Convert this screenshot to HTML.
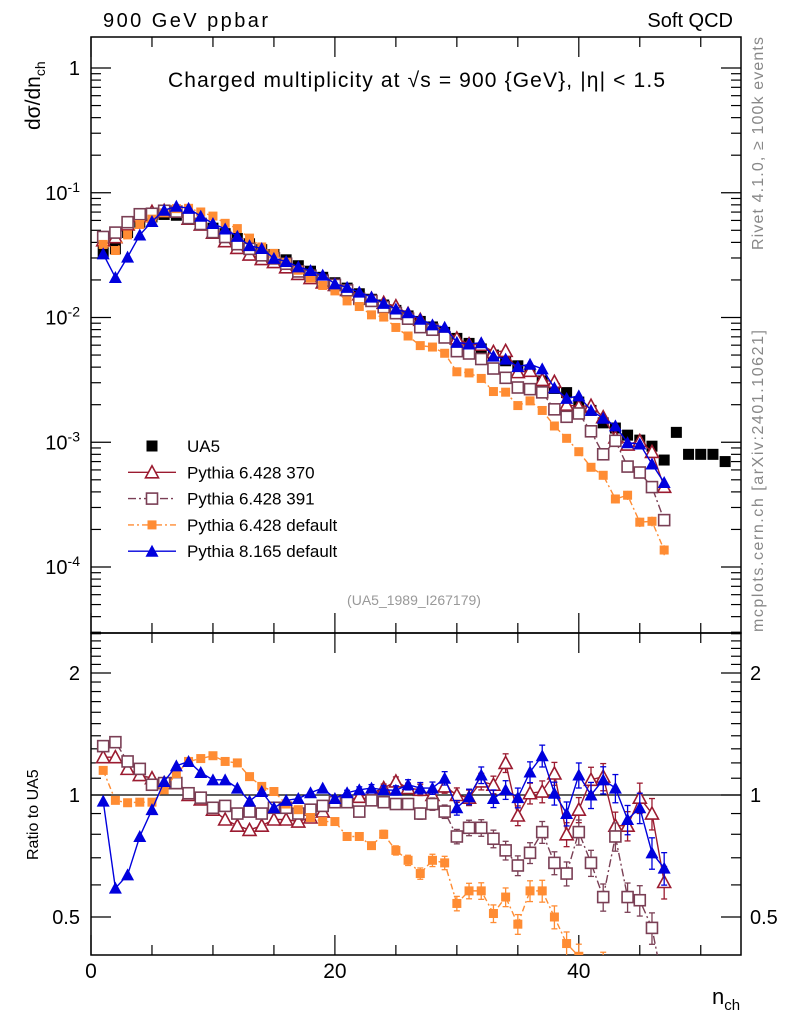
<!DOCTYPE html>
<html><head><meta charset="utf-8"><style>
body{margin:0;background:#fff;overflow:hidden}
svg{font-family:"Liberation Sans",sans-serif;display:block}
</style></head><body>
<svg id="c" width="786" height="1024" viewBox="0 0 786 1024">
<text x="103" y="27" font-size="20" textLength="165">900 GeV ppbar</text>
<text x="733" y="27" font-size="20" text-anchor="end">Soft QCD</text>
<text x="168" y="87" font-size="21" textLength="497">Charged multiplicity at √s = 900 {GeV}, |η| &lt; 1.5</text>
<text transform="translate(763,250) rotate(-90)" font-size="16" fill="#888" textLength="213">Rivet 4.1.0, ≥ 100k events</text>
<text transform="translate(763,632) rotate(-90)" font-size="16" fill="#888" textLength="302">mcplots.cern.ch [arXiv:2401.10621]</text>
<text transform="translate(40,130) rotate(-90)" font-size="21">dσ/dn<tspan font-size="14" dy="5">ch</tspan></text>
<text transform="translate(38,860) rotate(-90)" font-size="16">Ratio to UA5</text>
<text x="712" y="1004" font-size="22">n<tspan font-size="15" dy="6">ch</tspan></text>
<text x="414" y="605" font-size="14" fill="#999" text-anchor="middle">(UA5_1989_I267179)</text>
<g id="g"></g>
</svg>
<script>
const nVals=[];for(let i=1;i<=52;i++)nVals.push(i);
const ua5=[0.0335,0.0355,0.048,0.058,0.064,0.067,0.066,0.062,0.057,0.052,0.047,0.043,0.039,0.035,0.032,0.029,0.026,0.0235,0.021,0.019,0.0172,0.0155,0.014,0.0126,0.0114,0.0103,0.0093,0.0084,0.0076,0.0068,0.0062,0.0056,0.005,0.0045,0.0041,0.0037,0.0031,0.0027,0.0025,0.0021,0.0018,0.00143,0.0013,0.00114,0.00104,0.00093,0.00072,0.0012,0.0008,0.0008,0.0008,0.0007];
const ratio370=[1.24,1.24,1.16,1.12,1.10,1.07,1.07,1.0,0.975,0.92,0.87,0.84,0.82,0.84,0.87,0.87,0.86,0.88,0.91,0.96,0.966,0.99,1.01,1.04,1.08,1.04,1.03,1.0,1.05,1.0,0.985,1.08,1.06,1.20,0.89,1.01,1.02,1.13,0.80,0.92,1.09,1.11,0.84,0.84,0.985,0.90,0.61];
const ratio391=[1.32,1.35,1.21,1.16,1.06,1.07,1.07,1.01,0.985,0.93,0.94,0.90,0.91,0.90,0.93,0.93,0.90,0.92,0.94,0.96,0.96,0.91,0.97,0.96,0.95,0.95,0.90,0.95,0.91,0.79,0.83,0.83,0.78,0.73,0.67,0.72,0.81,0.68,0.64,0.81,0.68,0.56,0.79,0.56,0.55,0.47,0.33];
const ratioDef6=[1.15,0.97,0.957,0.96,0.96,1.03,1.13,1.21,1.23,1.25,1.21,1.20,1.11,1.05,1.02,0.95,0.92,0.88,0.86,0.86,0.79,0.79,0.75,0.80,0.73,0.69,0.64,0.69,0.68,0.54,0.58,0.58,0.51,0.56,0.48,0.58,0.58,0.50,0.43,0.40,0.35,0.38,0.27,0.33,0.22,0.25,0.19];
const ratioP8=[0.966,0.589,0.635,0.79,0.92,1.08,1.18,1.21,1.136,1.09,1.09,1.04,0.966,1.02,0.93,0.97,0.98,1.013,1.04,0.98,1.013,1.03,1.04,1.03,1.027,1.06,1.04,1.04,1.10,0.93,0.99,1.12,0.98,1.03,0.985,1.14,1.25,1.01,0.90,1.12,1.0,1.09,1.04,0.87,0.93,0.72,0.66];
const xTicks=[0,20,40];
const yTickExps=[0,-1,-2,-3,-4];
const rTicks=[0.5,1,2];

const NS="http://www.w3.org/2000/svg",G=document.getElementById('g');
const L=91,R=741,T=37,MB=633,RB=955;
const X=n=>L+(n-0)*(R-L)/53.3;
const Y=v=>68-124.75*Math.log10(v);
const YR=r=>795-122*Math.log2(r);
function mk(t,a,p){const e=document.createElementNS(NS,t);for(const k in a)e.setAttribute(k,a[k]);(p||G).appendChild(e);return e;}
const defs=mk('defs',{});
const c1=mk('clipPath',{id:'cm'},defs);mk('rect',{x:L,y:T,width:R-L,height:MB-T},c1);
const c2=mk('clipPath',{id:'cr'},defs);mk('rect',{x:L,y:MB,width:R-L,height:RB-MB},c2);
const f1=mk('rect',{x:L,y:T,width:R-L,height:MB-T,fill:'none',stroke:'#000','stroke-width':1.5});


const f2=mk('rect',{x:L,y:MB,width:R-L,height:RB-MB,fill:'none',stroke:'#000','stroke-width':1.5});


for(let v=0;v<=53;v+=5){const maj=v%20==0,len=maj?20:10;const x=X(v);
 for(const [y0,d] of [[T,1],[MB,-1],[MB,1],[RB,-1]]) mk('line',{x1:x,x2:x,y1:y0,y2:y0+d*len,stroke:'#000','stroke-width':1.2});}
xTicks.forEach(v=>{const t=mk('text',{x:X(v),y:978,'font-size':21,'text-anchor':'middle'});t.textContent=v;

});
for(let e=-5;e<=0;e++)for(let m=1;m<10;m++){const v=m*Math.pow(10,e),y=Y(v);if(y<T||y>MB)continue;const len=m==1?20:10;
 mk('line',{x1:L,x2:L+len,y1:y,y2:y,stroke:'#000','stroke-width':1.2});mk('line',{x1:R,x2:R-len,y1:y,y2:y,stroke:'#000','stroke-width':1.2});}
yTickExps.forEach(e=>{const y=Y(Math.pow(10,e));const t=mk('text',{x:80,y:y+7,'font-size':20,'text-anchor':'end'});
 if(e==0)t.textContent='1';else{t.textContent='10';const s=mk('tspan',{dy:-8,'font-size':14},t);s.textContent=e;}
 
 });
for(let k=4;k<=25;k++){const r=k/10,y=YR(r);if(y<MB||y>RB)continue;const len=(k==5||k==10||k==20)?20:10;
 mk('line',{x1:L,x2:L+len,y1:y,y2:y,stroke:'#000','stroke-width':1.2});mk('line',{x1:R,x2:R-len,y1:y,y2:y,stroke:'#000','stroke-width':1.2});}
rTicks.forEach(r=>{for(const [x,a] of [[80,'end'],[750,'start']]){const t=mk('text',{x:x,y:YR(r)+7,'font-size':20,'text-anchor':a});t.textContent=r;
 
 }});
mk('line',{x1:L,x2:R,y1:YR(1),y2:YR(1),stroke:'#000','stroke-width':1.2});
function marker(p,type,x,y,col){
 if(type=='sq')return mk('rect',{x:x-5.5,y:y-5.5,width:11,height:11,fill:'#000'},p);
 if(type=='tri')return mk('polygon',{points:`${x},${y-6.5} ${x-6.5},${y+5.5} ${x+6.5},${y+5.5}`,fill:'#fff',stroke:col,'stroke-width':1.6},p);
 if(type=='tris')return mk('polygon',{points:`${x},${y-6.5} ${x-6.5},${y+5.5} ${x+6.5},${y+5.5}`,fill:col},p);
 if(type=='osq')return mk('rect',{x:x-5.5,y:y-5.5,width:11,height:11,fill:'#fff',stroke:col,'stroke-width':1.6},p);
 if(type=='fsq')return mk('rect',{x:x-4.5,y:y-4.5,width:9,height:9,fill:col},p);
}
const series=[
 {name:'pythia-6428-370',r:ratio370,col:'#9b1b30',type:'tri',dash:''},
 {name:'pythia-6428-391',r:ratio391,col:'#7a3f55',type:'osq',dash:'8,3,2,3'},
 {name:'pythia-6428-default',r:ratioDef6,col:'#ff8c33',type:'fsq',dash:'6,3,2,3'},
 {name:'pythia-8165-default',r:ratioP8,col:'#0000dd',type:'tris',dash:''}];
const gd=mk('g',{'clip-path':'url(#cm)'});


ua5.forEach((v,i)=>marker(gd,'sq',X(nVals[i]),Y(v)));
series.forEach(s=>{
 const gm=mk('g',{'clip-path':'url(#cm)'});
 
 
 const gr=mk('g',{'clip-path':'url(#cr)'});
 
 
 const pm=[],pr=[];
 s.r.forEach((r,i)=>{const n=nVals[i];pm.push(X(n)+','+Y(ua5[i]*r));pr.push(X(n)+','+YR(r));});
 mk('polyline',{points:pm.join(' '),fill:'none',stroke:s.col,'stroke-width':1.4,'stroke-dasharray':s.dash},gm);
 mk('polyline',{points:pr.join(' '),fill:'none',stroke:s.col,'stroke-width':1.4,'stroke-dasharray':s.dash},gr);
 s.r.forEach((r,i)=>{const n=nVals[i],x=X(n);const ef=0.005+Math.max(0,n-18)*0.003;
  const y1=YR(r*(1+ef)),y2=YR(r*(1-ef));
  if(n>20){mk('line',{x1:x,x2:x,y1:y1,y2:y2,stroke:s.col,'stroke-width':1.3},gr);
   mk('line',{x1:x-3,x2:x+3,y1:y1,y2:y1,stroke:s.col,'stroke-width':1.3},gr);mk('line',{x1:x-3,x2:x+3,y1:y2,y2:y2,stroke:s.col,'stroke-width':1.3},gr);
   const m1=Y(ua5[i]*r*(1+ef)),m2=Y(ua5[i]*r*(1-ef));
   mk('line',{x1:x,x2:x,y1:m1,y2:m2,stroke:s.col,'stroke-width':1.3},gm);}
  marker(gm,s.type,x,Y(ua5[i]*r),s.col);marker(gr,s.type,x,YR(r),s.col);});
});
const legend=[['UA5','sq','#000',''],['Pythia 6.428 370','tri','#9b1b30',''],['Pythia 6.428 391','osq','#7a3f55','8,3,2,3'],['Pythia 6.428 default','fsq','#ff8c33','6,3,2,3'],['Pythia 8.165 default','tris','#0000dd','']];
legend.forEach((e,i)=>{const y=446+i*26.3;const g=mk('g',{});
 
 
 if(i>0)mk('line',{x1:128,x2:176,y1:y,y2:y,stroke:e[2],'stroke-width':1.4,'stroke-dasharray':e[3]},g);
 marker(g,e[1],152,y,e[2]);
 const t=mk('text',{x:187,y:y+6,'font-size':17},g);t.textContent=e[0];});
</script>
</body></html>
